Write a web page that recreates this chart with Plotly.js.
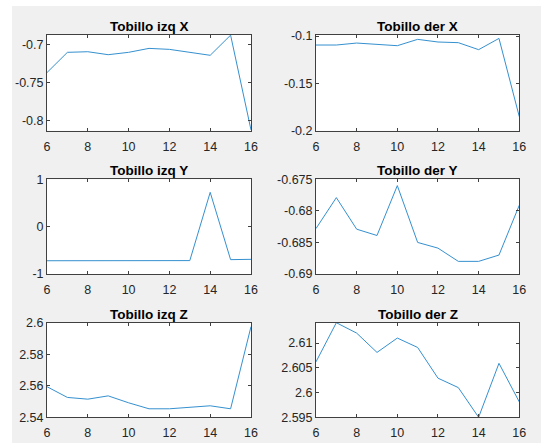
<!DOCTYPE html>
<html>
<head>
<meta charset="utf-8">
<script src="https://cdn.plot.ly/plotly-3.0.1.min.js"></script>
<style>
  html, body { margin: 0; padding: 0; background: #ffffff; }
  #fig { position: absolute; left: 12px; top: 6px; width: 529px; height: 437px; }
</style>
</head>
<body>
<div id="fig"></div>
<script>
// Frames 6..16, ankle (tobillo) coordinates for left (izq) and right (der) side
const frames = [6, 7, 8, 9, 10, 11, 12, 13, 14, 15, 16];

const izqX = [-0.737, -0.7104, -0.7096, -0.7135, -0.7104, -0.7052, -0.7065, -0.7100, -0.7143, -0.6878, -0.8125];
const derX = [-0.1095, -0.1095, -0.1074, -0.1090, -0.1102, -0.1035, -0.1063, -0.1070, -0.1144, -0.1025, -0.1852];
const izqY = [-0.720, -0.720, -0.719, -0.719, -0.719, -0.718, -0.718, -0.717, 0.725, -0.697, -0.690];
const derY = [-0.6828, -0.6779, -0.6829, -0.6839, -0.6760, -0.6850, -0.6859, -0.6880, -0.6880, -0.6870, -0.6791];
const izqZ = [2.5594, 2.5526, 2.5515, 2.5536, 2.5492, 2.5454, 2.5454, 2.5464, 2.5473, 2.5454, 2.5975];
const derZ = [2.6062, 2.6141, 2.6120, 2.6081, 2.6110, 2.6091, 2.6029, 2.6010, 2.5950, 2.6059, 2.5981];

const titles = ["Tobillo izq X", "Tobillo der X", "Tobillo izq Y", "Tobillo der Y", "Tobillo izq Z", "Tobillo der Z"];

// y ticks for each panel
const yTickVals = [
  [-0.8, -0.75, -0.7],
  [-0.2, -0.15, -0.1],
  [-1, 0, 1],
  [-0.69, -0.685, -0.68, -0.675],
  [2.54, 2.56, 2.58, 2.6],
  [2.595, 2.6, 2.605, 2.61]
];
const yTickText = [
  ["-0.8", "-0.75", "-0.7"],
  ["-0.2", "-0.15", "-0.1"],
  ["-1", "0", "1"],
  ["-0.69", "-0.685", "-0.68", "-0.675"],
  ["2.54", "2.56", "2.58", "2.6"],
  ["2.595", "2.6", "2.605", "2.61"]
];
const yRanges = [
  [-0.8135, -0.6876],
  [-0.2, -0.0989],
  [-1, 1],
  [-0.69, -0.675],
  [2.54, 2.6],
  [2.595, 2.6141]
];
const xTickVals = [6, 8, 10, 12, 14, 16];
const xTickText = ["6", "8", "10", "12", "14", "16"];

const series = [izqX, derX, izqY, derY, izqZ, derZ];

// panel geometry in pixels inside the figure div
const W = 529, H = 437;
const cols = [[35, 239], [304, 507.3]];
const rows = [[29, 124.7], [173.3, 268], [316.7, 411.3]];

const axisColor = "#404040";
const textColor = "#262626";
const font = "Liberation Sans, Arial, Helvetica, sans-serif";

const traces = [];
const layout = {
  width: W, height: H,
  margin: { l: 0, r: 0, t: 0, b: 0 },
  paper_bgcolor: "#f0f0f0",
  plot_bgcolor: "#ffffff",
  showlegend: false,
  font: { family: font, size: 12.5, color: textColor },
  annotations: []
};

series.forEach((vals, i) => {
  const r = Math.floor(i / 2), c = i % 2;
  const n = i + 1;
  const sfx = n === 1 ? "" : String(n);
  const xd = [cols[c][0] / W, cols[c][1] / W];
  const yd = [1 - rows[r][1] / H, 1 - rows[r][0] / H];

  traces.push({
    x: frames, y: vals,
    xaxis: "x" + sfx, yaxis: "y" + sfx,
    type: "scatter", mode: "lines",
    line: { color: "#3590cf", width: 1 },
    hoverinfo: "x+y"
  });

  const common = {
    showline: true, linecolor: axisColor, linewidth: 1,
    mirror: "ticks", ticks: "inside", ticklen: 3, tickcolor: axisColor, tickwidth: 1,
    showgrid: false, zeroline: false, fixedrange: true,
    tickfont: { family: font, size: 12.5, color: textColor },
    tickmode: "array"
  };
  layout["xaxis" + sfx] = Object.assign({}, common, {
    domain: xd, range: [6, 16],
    tickvals: xTickVals, ticktext: xTickText,
    ticklabelstandoff: 4,
    anchor: "y" + sfx
  });
  layout["yaxis" + sfx] = Object.assign({}, common, {
    domain: yd, range: yRanges[i],
    tickvals: yTickVals[i], ticktext: yTickText[i],
    anchor: "x" + sfx
  });

  layout.annotations.push({
    text: "<b>" + titles[i] + "</b>",
    xref: "paper", yref: "paper",
    x: (xd[0] + xd[1]) / 2, y: yd[1],
    xanchor: "center", yanchor: "bottom",
    yshift: -1,
    showarrow: false,
    font: { family: font, size: 13.5, color: "#000000" }
  });
});

Plotly.newPlot("fig", traces, layout, { displayModeBar: false, staticPlot: true });
</script>
</body>
</html>
